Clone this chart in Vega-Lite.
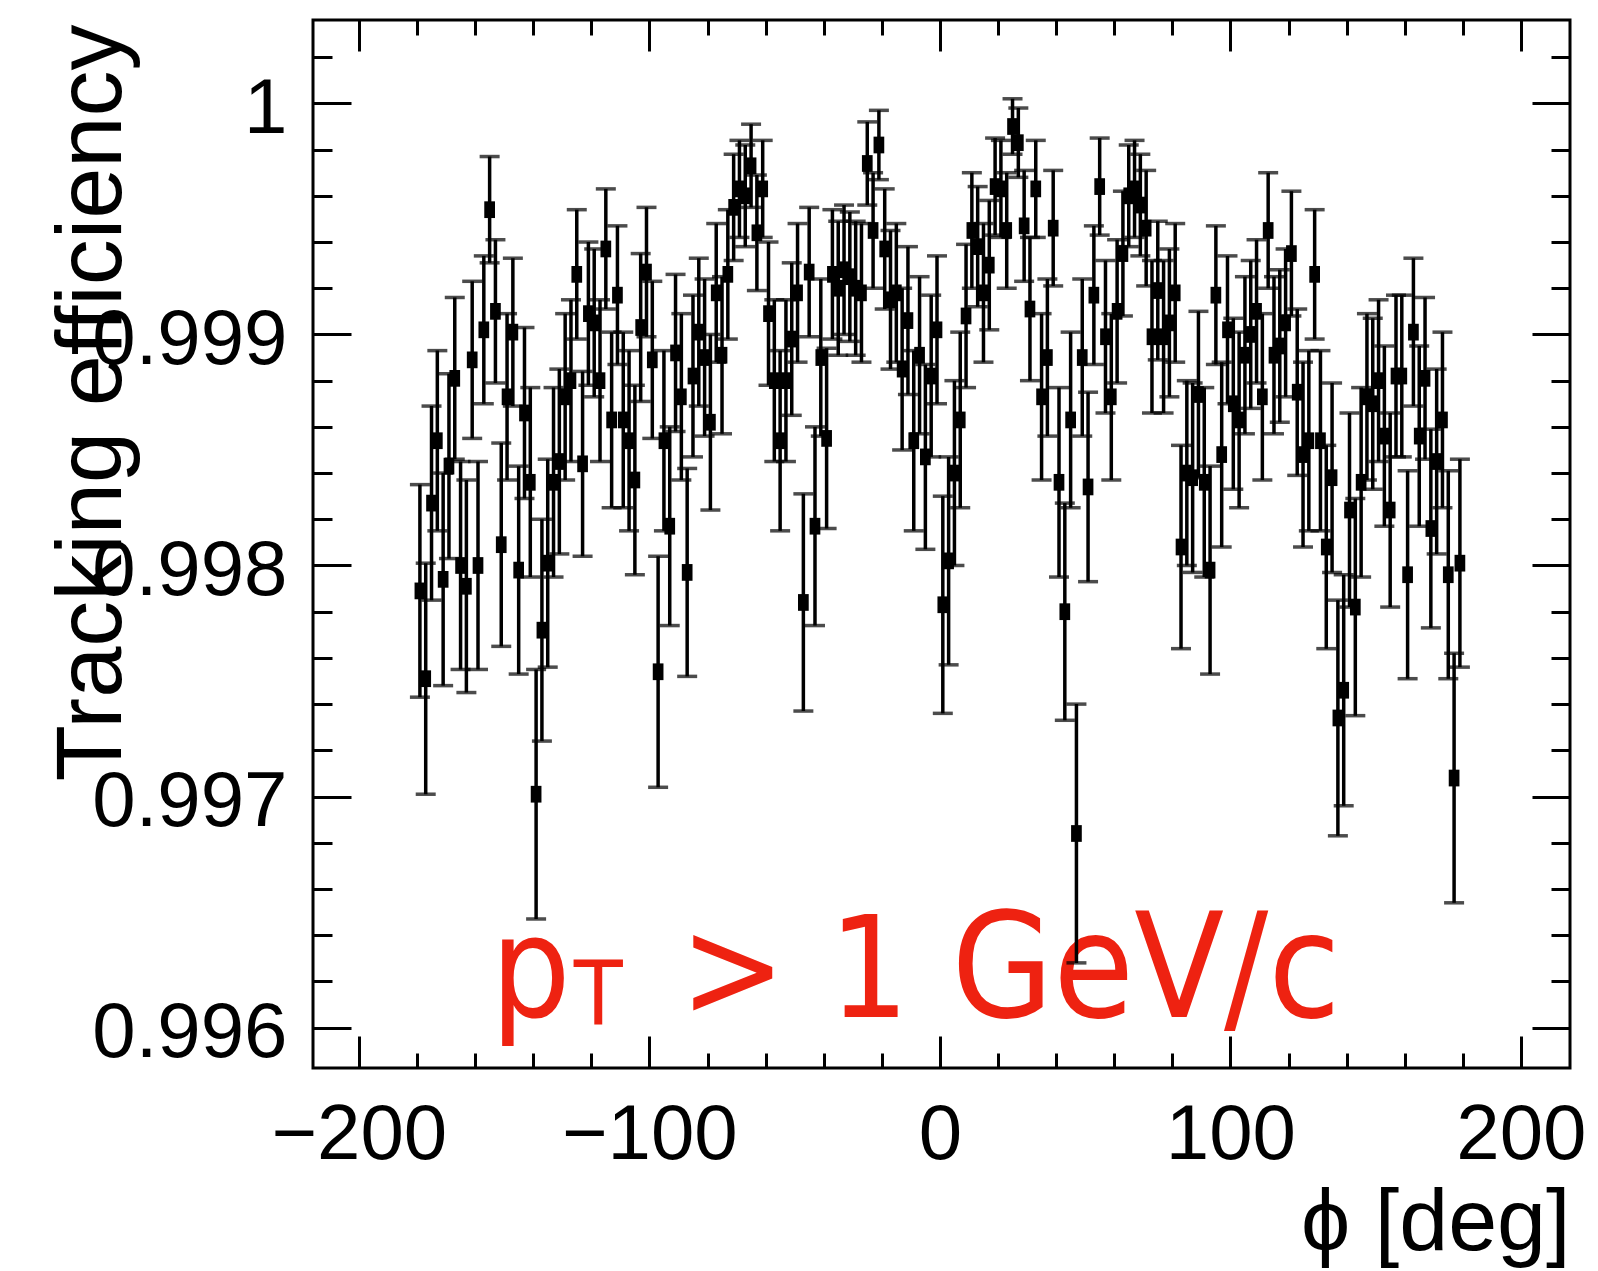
{
"$schema": "https://vega.github.io/schema/vega-lite/v6.json",
"width": 1257,
"height": 1048,
"autosize": {"type": "none"},
"padding": {"left": 313, "top": 20, "right": 28, "bottom": 203},
"background": "white",
"config": {
 "view": {"stroke": "black", "strokeWidth": 3},
 "axis": {"domain": false, "grid": false, "tickColor": "black", "tickWidth": 3, "labelColor": "black", "titleColor": "black", "labelFont": "Liberation Sans", "titleFont": "Liberation Sans", "titleFontWeight": "normal", "labelFlush": false, "labelOverlap": false, "labelBound": false, "labelLimit": 0, "titleLimit": 0}
},
"datasets": {"eff": [
{"phi":-179,"eff":0.99789,"err":0.00046},{"phi":-177,"eff":0.99751,"err":0.00050},{"phi":-175,"eff":0.99827,"err":0.00042},{"phi":-173,"eff":0.99854,"err":0.00039},{"phi":-171,"eff":0.99794,"err":0.00046},{"phi":-169,"eff":0.99843,"err":0.00040},{"phi":-167,"eff":0.99881,"err":0.00035},{"phi":-165,"eff":0.99800,"err":0.00045},{"phi":-163,"eff":0.99791,"err":0.00046},{"phi":-161,"eff":0.99889,"err":0.00034},
{"phi":-159,"eff":0.99800,"err":0.00045},{"phi":-157,"eff":0.99902,"err":0.00032},{"phi":-155,"eff":0.99954,"err":0.00023},{"phi":-153,"eff":0.99910,"err":0.00031},{"phi":-151,"eff":0.99809,"err":0.00044},{"phi":-149,"eff":0.99873,"err":0.00036},{"phi":-147,"eff":0.99901,"err":0.00032},{"phi":-145,"eff":0.99798,"err":0.00045},{"phi":-143,"eff":0.99866,"err":0.00037},{"phi":-141,"eff":0.99836,"err":0.00041},
{"phi":-139,"eff":0.99701,"err":0.00054},{"phi":-137,"eff":0.99772,"err":0.00048},{"phi":-135,"eff":0.99801,"err":0.00045},{"phi":-133,"eff":0.99836,"err":0.00041},{"phi":-131,"eff":0.99845,"err":0.00040},{"phi":-129,"eff":0.99873,"err":0.00036},{"phi":-127,"eff":0.99880,"err":0.00035},{"phi":-125,"eff":0.99926,"err":0.00028},{"phi":-123,"eff":0.99844,"err":0.00040},{"phi":-121,"eff":0.99909,"err":0.00031},
{"phi":-119,"eff":0.99905,"err":0.00032},{"phi":-117,"eff":0.99880,"err":0.00035},{"phi":-115,"eff":0.99937,"err":0.00026},{"phi":-113,"eff":0.99863,"err":0.00038},{"phi":-111,"eff":0.99917,"err":0.00030},{"phi":-109,"eff":0.99863,"err":0.00038},{"phi":-107,"eff":0.99854,"err":0.00039},{"phi":-105,"eff":0.99837,"err":0.00041},{"phi":-103,"eff":0.99903,"err":0.00032},{"phi":-101,"eff":0.99927,"err":0.00028},
{"phi":-99,"eff":0.99889,"err":0.00034},{"phi":-97,"eff":0.99754,"err":0.00050},{"phi":-95,"eff":0.99854,"err":0.00039},{"phi":-93,"eff":0.99817,"err":0.00043},{"phi":-91,"eff":0.99892,"err":0.00034},{"phi":-89,"eff":0.99873,"err":0.00036},{"phi":-87,"eff":0.99797,"err":0.00045},{"phi":-85,"eff":0.99882,"err":0.00035},{"phi":-83,"eff":0.99901,"err":0.00032},{"phi":-81,"eff":0.99890,"err":0.00034},
{"phi":-79,"eff":0.99862,"err":0.00038},{"phi":-77,"eff":0.99918,"err":0.00030},{"phi":-75,"eff":0.99891,"err":0.00034},{"phi":-73,"eff":0.99926,"err":0.00028},{"phi":-71,"eff":0.99955,"err":0.00023},{"phi":-69,"eff":0.99963,"err":0.00021},{"phi":-67,"eff":0.99960,"err":0.00022},{"phi":-65,"eff":0.99973,"err":0.00018},{"phi":-63,"eff":0.99944,"err":0.00025},{"phi":-61,"eff":0.99963,"err":0.00021},
{"phi":-59,"eff":0.99909,"err":0.00031},{"phi":-57,"eff":0.99880,"err":0.00035},{"phi":-55,"eff":0.99854,"err":0.00039},{"phi":-53,"eff":0.99880,"err":0.00035},{"phi":-51,"eff":0.99898,"err":0.00033},{"phi":-49,"eff":0.99918,"err":0.00030},{"phi":-47,"eff":0.99784,"err":0.00047},{"phi":-45,"eff":0.99927,"err":0.00028},{"phi":-43,"eff":0.99817,"err":0.00043},{"phi":-41,"eff":0.99890,"err":0.00034},
{"phi":-39,"eff":0.99855,"err":0.00039},{"phi":-37,"eff":0.99926,"err":0.00028},{"phi":-35,"eff":0.99920,"err":0.00029},{"phi":-33,"eff":0.99928,"err":0.00028},{"phi":-31,"eff":0.99925,"err":0.00028},{"phi":-29,"eff":0.99920,"err":0.00029},{"phi":-27,"eff":0.99918,"err":0.00030},{"phi":-25,"eff":0.99974,"err":0.00018},{"phi":-23,"eff":0.99945,"err":0.00025},{"phi":-21,"eff":0.99982,"err":0.00015},
{"phi":-19,"eff":0.99937,"err":0.00026},{"phi":-17,"eff":0.99915,"err":0.00030},{"phi":-15,"eff":0.99918,"err":0.00030},{"phi":-13,"eff":0.99885,"err":0.00035},{"phi":-11,"eff":0.99906,"err":0.00032},{"phi":-9,"eff":0.99854,"err":0.00039},{"phi":-7,"eff":0.99891,"err":0.00034},{"phi":-5,"eff":0.99847,"err":0.00040},{"phi":-3,"eff":0.99882,"err":0.00035},{"phi":-1,"eff":0.99902,"err":0.00032},
{"phi":1,"eff":0.99783,"err":0.00047},{"phi":3,"eff":0.99802,"err":0.00045},{"phi":5,"eff":0.99840,"err":0.00040},{"phi":7,"eff":0.99863,"err":0.00038},{"phi":9,"eff":0.99908,"err":0.00031},{"phi":11,"eff":0.99945,"err":0.00025},{"phi":13,"eff":0.99938,"err":0.00026},{"phi":15,"eff":0.99918,"err":0.00030},{"phi":17,"eff":0.99930,"err":0.00028},{"phi":19,"eff":0.99964,"err":0.00021},
{"phi":21,"eff":0.99963,"err":0.00021},{"phi":23,"eff":0.99945,"err":0.00025},{"phi":25,"eff":0.99990,"err":0.00012},{"phi":27,"eff":0.99983,"err":0.00015},{"phi":29,"eff":0.99947,"err":0.00024},{"phi":31,"eff":0.99911,"err":0.00031},{"phi":33,"eff":0.99963,"err":0.00021},{"phi":35,"eff":0.99873,"err":0.00036},{"phi":37,"eff":0.99890,"err":0.00034},{"phi":39,"eff":0.99946,"err":0.00025},
{"phi":41,"eff":0.99836,"err":0.00041},{"phi":43,"eff":0.99780,"err":0.00047},{"phi":45,"eff":0.99863,"err":0.00038},{"phi":47,"eff":0.99684,"err":0.00056},{"phi":49,"eff":0.99890,"err":0.00034},{"phi":51,"eff":0.99834,"err":0.00041},{"phi":53,"eff":0.99917,"err":0.00030},{"phi":55,"eff":0.99964,"err":0.00021},{"phi":57,"eff":0.99899,"err":0.00033},{"phi":59,"eff":0.99873,"err":0.00036},
{"phi":61,"eff":0.99910,"err":0.00031},{"phi":63,"eff":0.99935,"err":0.00027},{"phi":65,"eff":0.99960,"err":0.00022},{"phi":67,"eff":0.99963,"err":0.00021},{"phi":69,"eff":0.99956,"err":0.00022},{"phi":71,"eff":0.99946,"err":0.00025},{"phi":73,"eff":0.99899,"err":0.00033},{"phi":75,"eff":0.99919,"err":0.00030},{"phi":77,"eff":0.99899,"err":0.00033},{"phi":79,"eff":0.99905,"err":0.00032},
{"phi":81,"eff":0.99918,"err":0.00030},{"phi":83,"eff":0.99808,"err":0.00044},{"phi":85,"eff":0.99840,"err":0.00040},{"phi":87,"eff":0.99838,"err":0.00041},{"phi":89,"eff":0.99874,"err":0.00036},{"phi":91,"eff":0.99836,"err":0.00041},{"phi":93,"eff":0.99798,"err":0.00045},{"phi":95,"eff":0.99917,"err":0.00030},{"phi":97,"eff":0.99848,"err":0.00040},{"phi":99,"eff":0.99902,"err":0.00032},
{"phi":101,"eff":0.99870,"err":0.00037},{"phi":103,"eff":0.99863,"err":0.00038},{"phi":105,"eff":0.99891,"err":0.00034},{"phi":107,"eff":0.99900,"err":0.00032},{"phi":109,"eff":0.99910,"err":0.00031},{"phi":111,"eff":0.99873,"err":0.00036},{"phi":113,"eff":0.99945,"err":0.00025},{"phi":115,"eff":0.99891,"err":0.00034},{"phi":117,"eff":0.99895,"err":0.00033},{"phi":119,"eff":0.99905,"err":0.00032},
{"phi":121,"eff":0.99935,"err":0.00027},{"phi":123,"eff":0.99875,"err":0.00036},{"phi":125,"eff":0.99848,"err":0.00040},{"phi":127,"eff":0.99854,"err":0.00039},{"phi":129,"eff":0.99926,"err":0.00028},{"phi":131,"eff":0.99854,"err":0.00039},{"phi":133,"eff":0.99808,"err":0.00044},{"phi":135,"eff":0.99838,"err":0.00041},{"phi":137,"eff":0.99734,"err":0.00051},{"phi":139,"eff":0.99746,"err":0.00050},
{"phi":141,"eff":0.99824,"err":0.00042},{"phi":143,"eff":0.99782,"err":0.00047},{"phi":145,"eff":0.99836,"err":0.00041},{"phi":147,"eff":0.99873,"err":0.00036},{"phi":149,"eff":0.99870,"err":0.00037},{"phi":151,"eff":0.99880,"err":0.00035},{"phi":153,"eff":0.99856,"err":0.00039},{"phi":155,"eff":0.99824,"err":0.00042},{"phi":157,"eff":0.99882,"err":0.00035},{"phi":159,"eff":0.99882,"err":0.00035},
{"phi":161,"eff":0.99796,"err":0.00045},{"phi":163,"eff":0.99901,"err":0.00032},{"phi":165,"eff":0.99856,"err":0.00039},{"phi":167,"eff":0.99881,"err":0.00035},{"phi":169,"eff":0.99816,"err":0.00043},{"phi":171,"eff":0.99845,"err":0.00040},{"phi":173,"eff":0.99863,"err":0.00038},{"phi":175,"eff":0.99796,"err":0.00045},{"phi":177,"eff":0.99708,"err":0.00054},{"phi":179,"eff":0.99801,"err":0.00045}
]},
"layer": [
 {
  "data": {"values": [{"t": "p", "phi": -154.6, "eff": 0.996047}, {"t": ">", "phi": -89.5, "eff": 0.996047}, {"t": "1", "phi": -38.2, "eff": 0.996047}, {"t": "GeV/c", "phi": 4.0, "eff": 0.996047}]},
  "mark": {"type": "text", "font": "DejaVu Sans Condensed, DejaVu Sans", "fontSize": 140, "color": "#ee2211", "align": "left", "baseline": "alphabetic"},
  "encoding": {
   "x": {"field": "phi", "type": "quantitative", "scale": {"domain": [-215.8, 216.9], "nice": false, "zero": false}, "axis": null},
   "y": {"field": "eff", "type": "quantitative", "scale": {"domain": [0.995825, 1.000361], "nice": false, "zero": false}, "axis": null},
   "text": {"field": "t"},
   "size": {"condition": {"test": "datum.t === 'GeV/c'", "value": 146}, "value": 140}
  }
 },
 {
  "data": {"values": [{"t": "T", "phi": -126.0, "eff": 0.996012}]},
  "mark": {"type": "text", "font": "DejaVu Sans Condensed, DejaVu Sans", "fontSize": 89, "color": "#ee2211", "align": "left", "baseline": "alphabetic"},
  "encoding": {
   "x": {"field": "phi", "type": "quantitative", "scale": {"domain": [-215.8, 216.9], "nice": false, "zero": false}, "axis": null},
   "y": {"field": "eff", "type": "quantitative", "scale": {"domain": [0.995825, 1.000361], "nice": false, "zero": false}, "axis": null},
   "text": {"field": "t"}
  }
 },
 {
  "data": {"name": "eff"},
  "mark": {"type": "errorbar", "color": "black", "thickness": 3.5, "ticks": {"size": 20, "thickness": 3.5, "color": "black"}, "rule": {"strokeWidth": 3.5, "color": "black"}},
  "encoding": {
   "x": {"field": "phi", "type": "quantitative", "scale": {"domain": [-215.8, 216.9], "nice": false, "zero": false},
     "axis": {"orient": "bottom", "values": [-200, -100, 0, 100, 200], "format": "d", "tickSize": -32, "labelFontSize": 78, "labelPadding": 60, "title": "ϕ [deg]", "titleFontSize": 88, "titleX": 1257, "titleY": 181, "titleAlign": "right", "titleBaseline": "alphabetic", "titleAnchor": "end"}},
   "y": {"field": "eff", "type": "quantitative", "scale": {"domain": [0.995825, 1.000361], "nice": false, "zero": false},
     "axis": {"orient": "left", "values": [0.996, 0.997, 0.998, 0.999, 1], "format": ".3~f", "tickSize": -38, "labelFontSize": 78, "labelPadding": 64, "labelOffset": 6, "title": "Tracking efficiency", "titleFontSize": 92, "titleX": -193, "titleY": 4, "titleAngle": 270, "titleAlign": "right", "titleBaseline": "alphabetic"}},
   "yError": {"field": "err"}
  }
 },
 {
  "data": {"name": "eff"},
  "mark": {"type": "point", "shape": "M-0.64,-1H0.64V1H-0.64Z", "size": 280, "filled": true, "color": "black", "opacity": 1, "strokeWidth": 0},
  "encoding": {
   "x": {"field": "phi", "type": "quantitative", "scale": {"domain": [-215.8, 216.9], "nice": false, "zero": false},
     "axis": {"orient": "bottom", "values": [-200, -180, -160, -140, -120, -100, -80, -60, -40, -20, 0, 20, 40, 60, 80, 100, 120, 140, 160, 180, 200], "tickSize": -15, "labels": false, "title": null}},
   "y": {"field": "eff", "type": "quantitative", "scale": {"domain": [0.995825, 1.000361], "nice": false, "zero": false},
     "axis": {"orient": "left", "values": [0.996, 0.9962, 0.9964, 0.9966, 0.9968, 0.997, 0.9972, 0.9974, 0.9976, 0.9978, 0.998, 0.9982, 0.9984, 0.9986, 0.9988, 0.999, 0.9992, 0.9994, 0.9996, 0.9998, 1, 1.0002], "tickSize": -19, "labels": false, "title": null}}
  }
 },
 {
  "data": {"name": "eff"},
  "mark": {"type": "point", "opacity": 0},
  "encoding": {
   "x": {"field": "phi", "type": "quantitative", "scale": {"domain": [-215.8, 216.9], "nice": false, "zero": false},
     "axis": {"orient": "top", "values": [-200, -100, 0, 100, 200], "tickSize": -31, "labels": false, "title": null}},
   "y": {"field": "eff", "type": "quantitative", "scale": {"domain": [0.995825, 1.000361], "nice": false, "zero": false},
     "axis": {"orient": "right", "values": [0.996, 0.997, 0.998, 0.999, 1], "tickSize": -38, "labels": false, "title": null}}
  }
 },
 {
  "data": {"name": "eff"},
  "mark": {"type": "point", "opacity": 0},
  "encoding": {
   "x": {"field": "phi", "type": "quantitative", "scale": {"domain": [-215.8, 216.9], "nice": false, "zero": false},
     "axis": {"orient": "top", "values": [-200, -180, -160, -140, -120, -100, -80, -60, -40, -20, 0, 20, 40, 60, 80, 100, 120, 140, 160, 180, 200], "tickSize": -15, "labels": false, "title": null}},
   "y": {"field": "eff", "type": "quantitative", "scale": {"domain": [0.995825, 1.000361], "nice": false, "zero": false},
     "axis": {"orient": "right", "values": [0.996, 0.9962, 0.9964, 0.9966, 0.9968, 0.997, 0.9972, 0.9974, 0.9976, 0.9978, 0.998, 0.9982, 0.9984, 0.9986, 0.9988, 0.999, 0.9992, 0.9994, 0.9996, 0.9998, 1, 1.0002], "tickSize": -19, "labels": false, "title": null}}
  }
 }
],
"resolve": {"axis": {"x": "independent", "y": "independent"}}
}
